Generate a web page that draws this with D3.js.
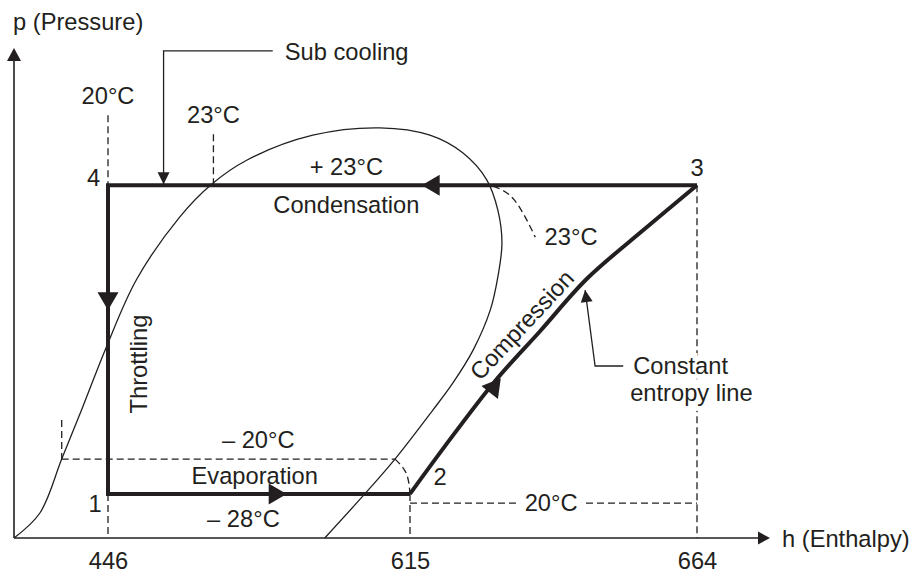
<!DOCTYPE html>
<html>
<head>
<meta charset="utf-8">
<script src="https://cdn.jsdelivr.net/npm/d3@7"></script>
<style>
  body { margin: 0; background: #fff; }
  svg { display: block; }
</style>
</head>
<body>
<div id="vis"></div>
<script>
// p-h diagram of the refrigeration cycle (schematic)

// Enthalpy values marked on the h axis
let hTicks = [446, 615, 664];

// Pressure levels, schematic units 0-100
let pLow = 9,
    pHigh = 72;

// Straight parts of the cycle: 2 -> 1 -> 4 -> 3
let cycleH = [615, 446, 446, 664];
let cycleP = [pLow, pLow, pHigh, pHigh];

// Compression 2 -> 3 (constant entropy line)
let compH = [615, 621, 629.5, 637.2, 645.2, 655.1, 664];
let compP = [9, 18.8, 32.0, 42.2, 52.9, 63.1, 72];

// Saturation curve
let domeH = [393, 407.6, 419.9, 431.7, 445.1, 461.9, 486.1, 504, 523.6, 560.6, 598.2,
             618.4, 624.0, 628.1, 630.0, 630.7, 630.0, 628.7, 625.8, 622.3, 618.9,
             606.6, 589.7, 567.3];
let domeP = [0, 5.1, 16.1, 26.7, 39.0, 52.7, 65.5, 72.2, 77.1, 82.2, 83.7,
             82.2, 78.6, 73.1, 66.9, 60.2, 53.3, 46.5, 38.4, 31.6, 26.1,
             16.1, 9.0, 0];

// Dashed guide lines
let guideH = [[446, 446], [505, 505], [664, 664], [446, 446], [615, 615],
              [419.9, 606.6], [419.9, 419.9], [615, 664],
              [606.6, 612.9, 615], [629.2, 632.8, 636.4]];
let guideP = [[86.3, 72], [82.4, 72], [72, 0], [9, 0], [9, 0],
              [16.1, 16.1], [24.1, 16.1], [7.1, 7.1],
              [16.1, 13.2, 9], [71.8, 69.0, 61.4]];

// Callouts
let subCoolH = [538.2, 477.1, 477.1],
    subCoolP = [99.4, 99.4, 72.2];
let entropyH = [651.4, 646.6, 644.9],
    entropyP = [35.1, 35.1, 50.6];

// Flow direction arrows on the cycle: [fromH, fromP, tipH, tipP]
let flowArrows = [
  [446, 72, 446, 46.5],
  [446, 9, 546, 9],
  [664, 72, 617, 72],
  [615, 9, 630.5, 32.6]
];

let width = 913,
    height = 573;

let ink = '#231f20';
let font = '"Liberation Sans", Arial, sans-serif';
let fontSize = '23.7px';

let svg = d3.select('#vis')
            .append('svg')
            .attr('width', width)
            .attr('height', height)
            .style('background', '#fff');

// Schematic scales (h axis is not to scale beyond 615)
let x = d3.scaleLinear()
    .domain([393, 446, 615, 664, 676.5])
    .range([14, 108, 410, 697, 770]);

let y = d3.scaleLinear()
    .domain([0, 100])
    .range([538, 48]);

function pts(hs, ps) {
  return hs.map((h, i) => [h, ps[i]]);
}

let line = d3.line()
    .x(d => x(d[0]))
    .y(d => y(d[1]));

function head(fx, fy, tx, ty, len, half) {
  let a = Math.atan2(ty - fy, tx - fx);
  let bx = tx - len * Math.cos(a),
      by = ty - len * Math.sin(a);
  let nx = -Math.sin(a) * half,
      ny = Math.cos(a) * half;
  return `M${tx},${ty}L${bx + nx},${by + ny}L${bx - nx},${by - ny}Z`;
}

// Axes
let x0 = x(393), y0 = y(0);
let xEnd = x(676.5), yEnd = y(100);

svg.append('line')
    .attr('x1', x0).attr('y1', y0)
    .attr('x2', xEnd - 10).attr('y2', y0)
    .style('stroke', ink).style('stroke-width', 1.6);
svg.append('line')
    .attr('x1', x0).attr('y1', y0)
    .attr('x2', x0).attr('y2', yEnd + 10)
    .style('stroke', ink).style('stroke-width', 1.6);
svg.append('path')
    .attr('d', head(x0, y0, xEnd, y0, 12, 6.5))
    .style('fill', ink);
svg.append('path')
    .attr('d', head(x0, y0, x0, yEnd, 13, 7))
    .style('fill', ink);

let xAxis = svg.append('g')
    .attr('transform', `translate(0, ${y0})`)
    .call(d3.axisBottom(x).tickValues(hTicks).tickFormat(d3.format('d')).tickSize(0).tickPadding(14));
xAxis.select('.domain').remove();
xAxis.selectAll('text')
    .style('font-family', font)
    .style('font-size', fontSize)
    .style('fill', ink);

// Dashed guides
guideH.forEach((hs, i) => {
  svg.append('path')
      .attr('d', line.curve(d3.curveNatural)(pts(hs, guideP[i])))
      .style('fill', 'none')
      .style('stroke', ink)
      .style('stroke-width', 1.3)
      .style('stroke-dasharray', '7,4');
});

// Saturation curve
svg.append('path')
    .attr('d', line.curve(d3.curveCatmullRom)(pts(domeH, domeP)))
    .style('fill', 'none')
    .style('stroke', ink)
    .style('stroke-width', 1.3);

// Cycle
svg.append('path')
    .attr('d', line.curve(d3.curveLinear)(pts(cycleH, cycleP)))
    .style('fill', 'none')
    .style('stroke', ink)
    .style('stroke-width', 4)
    .style('stroke-linejoin', 'miter');

svg.append('path')
    .attr('d', line.curve(d3.curveCatmullRom)(pts(compH, compP)))
    .style('fill', 'none')
    .style('stroke', ink)
    .style('stroke-width', 4);

flowArrows.forEach(a => {
  svg.append('path')
      .attr('d', head(x(a[0]), y(a[1]), x(a[2]), y(a[3]), 18, 10.5))
      .style('fill', ink);
});

// Callout lines
[[subCoolH, subCoolP], [entropyH, entropyP]].forEach(c => {
  let p = pts(c[0], c[1]);
  svg.append('path')
      .attr('d', line.curve(d3.curveLinear)(p))
      .style('fill', 'none')
      .style('stroke', ink)
      .style('stroke-width', 1.3);
  let a = p[p.length - 2], b = p[p.length - 1];
  svg.append('path')
      .attr('d', head(x(a[0]), y(a[1]), x(b[0]), y(b[1]), 12, 6))
      .style('fill', ink);
});

// Text
function label(txt, px, py, anchor, halo) {
  let t = svg.append('text')
      .attr('x', px)
      .attr('y', py)
      .text(txt)
      .style('text-anchor', anchor || 'middle')
      .style('font-family', font)
      .style('font-size', fontSize)
      .style('fill', ink);
  if (halo) {
    t.style('stroke', '#fff')
     .style('stroke-width', halo)
     .style('paint-order', 'stroke');
  }
  return t;
}

label('p (Pressure)', x0 - 1, yEnd - 18, 'start');
label('h (Enthalpy)', xEnd + 12, y0 + 9, 'start');

label('Sub cooling', x(subCoolH[0]) + 12, y(subCoolP[0]) + 9, 'start');
label('Constant', x(entropyH[0]) + 10, y(entropyP[0]) + 8, 'start', 10);
label('entropy line', x(entropyH[0]) + 7, y(entropyP[0]) + 35, 'start', 10);

label('20°C', x(446), y(86.3) - 11);
label('23°C', x(505), y(82.4) - 11.5);
label('4', x(446) - 14.5, y(pHigh) + 1);
label('3', x(664), y(pHigh) - 9);
label('1', x(446) - 13, y(pLow) + 18);
label('2', x(615) + 30, y(pLow) - 9);

label('+ 23°C', x(579.4), y(pHigh) - 10);
label('Condensation', x(579.4), y(pHigh) + 28);
label('23°C', x(642.5), y(59.8));

label('– 20°C', x(530.1), y(16.1) - 11);
label('Evaporation', x(528.1), y(pLow) - 10);
label('– 28°C', x(521.8), y(pLow) + 33);
label('20°C', x(639.1), y(7.1) + 8, 'middle', 12);

label('Throttling', 0, 0)
    .attr('transform', `translate(${x(446) + 39}, ${y(35.5)}) rotate(-90)`);

label('Compression', 0, 0)
    .attr('dy', '0.35em')
    .attr('transform', `translate(${x(634.1)}, ${y(43.5)}) rotate(-47)`);
</script>
</body>
</html>
